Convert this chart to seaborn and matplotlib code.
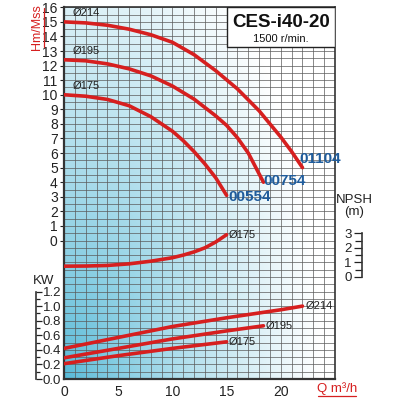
import numpy as np
import matplotlib
matplotlib.use('Agg')
import matplotlib.pyplot as plt
from matplotlib.patches import Rectangle
from matplotlib.lines import Line2D
from matplotlib.ticker import FixedLocator, MultipleLocator
import seaborn as sns

# Head curves (Q m3/h -> H m)
q_214 = [0, 2, 4, 6, 8, 10, 12, 14, 16, 18, 20, 21, 22]
h_214 = [15.0, 14.93, 14.77, 14.5, 14.12, 13.6, 12.75, 11.65, 10.4, 8.9, 7.1, 6.1, 5.0]
q_195 = [0, 2, 4, 6, 8, 10, 12, 14, 15, 16, 17, 18.4]
h_195 = [12.4, 12.33, 12.12, 11.78, 11.3, 10.6, 9.7, 8.55, 7.9, 7.05, 6.0, 4.0]
q_175 = [0, 2, 4, 6, 8, 10, 11, 12, 13, 14, 15]
h_175 = [10.0, 9.9, 9.68, 9.25, 8.5, 7.5, 6.85, 6.1, 5.25, 4.3, 3.1]

# NPSH curve (m)
q_npsh = [0, 2, 4, 6, 8, 10, 11, 12, 13, 14, 15]
npsh_175 = [0.74, 0.75, 0.79, 0.9, 1.08, 1.32, 1.5, 1.72, 2.0, 2.4, 2.9]

# Power curves (KW)
q_p214 = [0, 5, 10, 15, 20, 22]
kw_214 = [0.42, 0.57, 0.72, 0.84, 0.95, 1.0]
q_p195 = [0, 5, 10, 15, 18.4]
kw_195 = [0.29, 0.42, 0.55, 0.66, 0.73]
q_p175 = [0, 5, 10, 15]
kw_175 = [0.21, 0.32, 0.42, 0.51]

diameters = ['Ø214', 'Ø195', 'Ø175']
models = ['01104', '00754', '00554']
head_ticks = list(range(0, 17))
q_ticks = [0, 5, 10, 15, 20]
kw_ticks = [0.0, 0.2, 0.4, 0.6, 0.8, 1.0, 1.2]
kw_minor = [0.1, 0.3, 0.5, 0.7, 0.9, 1.1]
npsh_ticks = [0, 1, 2, 3]
npsh_minor = [0.5, 1.5, 2.5]

RED = '#d61f1f'
BLUE = '#1f5c9c'
TXT = '#222222'

sns.set_theme(style='white')
plt.rcParams['font.family'] = ['Liberation Sans', 'DejaVu Sans']

fig = plt.figure(figsize=(4, 4), dpi=100)
L, B, W, H = 0.16, 0.0525, 0.6775, 0.92925
ax = fig.add_axes([L, B, W, H])

# background gradient (blue at bottom-left fading to white)
u, v = np.meshgrid(np.linspace(0, 1, 271), np.linspace(0, 1, 372))
d = np.clip(np.sqrt((u / 0.95) ** 2 + (v / 1.35) ** 2), 0, 1) ** 0.8
blue = np.array([85, 185, 215]) / 255
grad = blue[None, None, :] * (1 - d[..., None]) + d[..., None]
ax.imshow(grad, extent=[0, 25, -9.5, 16], origin='lower', aspect='auto',
          zorder=0, interpolation='bilinear')

# head curves
for q, h in [(q_214, h_214), (q_195, h_195), (q_175, h_175)]:
    sns.lineplot(x=q, y=h, ax=ax, color=RED, linewidth=2.6, zorder=4)

ax.text(0.8, 15.6, diameters[0], fontsize=8, color=TXT, va='center')
ax.text(0.8, 13.0, diameters[1], fontsize=8, color=TXT, va='center')
ax.text(0.8, 10.6, diameters[2], fontsize=8, color=TXT, va='center')

mfont = dict(color=BLUE, fontsize=11, fontweight='bold', va='center', zorder=6)
ax.text(21.7, 5.6, models[0], **mfont)
ax.text(18.4, 4.05, models[1], **mfont)
ax.text(15.15, 3.0, models[2], **mfont)

# title box
ax.add_patch(Rectangle((15, 13.3), 10, 2.7, facecolor='white', edgecolor=TXT,
                       linewidth=1, zorder=5))
ax.text(20, 14.95, 'CES-i40-20', ha='center', va='center', fontsize=13.5,
        fontweight='bold', color='#111', zorder=6)
ax.text(20, 13.85, '1500 r/min.', ha='center', va='center', fontsize=8,
        color='#111', zorder=6)

# NPSH curve on its own scale
ax_np = ax.twinx()
sns.lineplot(x=q_npsh, y=npsh_175, ax=ax_np, color=RED, linewidth=2.6)
ax_np.set_ylim(-7, 18.5)
ax_np.set_axis_off()
ax_np.text(15.2, 2.9, diameters[2], fontsize=8, color=TXT, va='center')

# power curves on KW scale
ax_kw = ax.twinx()
for q, kw in [(q_p214, kw_214), (q_p195, kw_195), (q_p175, kw_175)]:
    sns.lineplot(x=q, y=kw, ax=ax_kw, color=RED, linewidth=2.6)
ax_kw.set_ylim(0, 5.1)
ax_kw.set_axis_off()
ax_kw.text(22.3, 1.0, diameters[0], fontsize=8, color=TXT, va='center')
ax_kw.text(18.6, 0.73, diameters[1], fontsize=8, color=TXT, va='center')
ax_kw.text(15.2, 0.51, diameters[2], fontsize=8, color=TXT, va='center')

# main axis styling
ax.set_xlim(0, 25)
ax.set_ylim(-9.5, 16)
ax.xaxis.set_major_locator(FixedLocator(q_ticks))
ax.xaxis.set_minor_locator(MultipleLocator(1))
ax.yaxis.set_major_locator(FixedLocator(head_ticks))
ax.yaxis.set_minor_locator(MultipleLocator(0.5))
ax.grid(which='both', color='#5a5a5a', linewidth=0.5)
ax.tick_params(which='minor', length=0)
ax.tick_params(axis='y', which='major', length=3, width=0.8, pad=1.5,
               labelsize=10, colors=TXT, left=True)
ax.tick_params(axis='x', which='major', length=0, pad=4, labelsize=10, colors=TXT)
for s in ax.spines.values():
    s.set_color('#333333')
    s.set_linewidth(1.2)
ax.spines['left'].set_linewidth(1.6)
ax.spines['bottom'].set_linewidth(1.6)

# KW bracket scale
ax_kt = fig.add_axes([36 / 400, B, 0.0001, H])
ax_kt.set_ylim(0, 5.1)
ax_kt.patch.set_visible(False)
for s in ['top', 'bottom', 'left']:
    ax_kt.spines[s].set_visible(False)
ax_kt.spines['right'].set_bounds(0, 1.2)
ax_kt.spines['right'].set_color('#333333')
ax_kt.spines['right'].set_linewidth(1.2)
ax_kt.set_xticks([])
ax_kt.yaxis.tick_right()
ax_kt.yaxis.set_major_locator(FixedLocator(kw_ticks))
ax_kt.yaxis.set_minor_locator(FixedLocator(kw_minor))
ax_kt.set_yticklabels([f'{t:.1f}' for t in kw_ticks])
ax_kt.tick_params(axis='y', which='both', direction='out', length=4, width=0.9,
                  pad=1, labelsize=9.5, colors=TXT, right=True)
ax_kt.tick_params(axis='y', which='minor', length=3)

# NPSH bracket scale
ax_nt = fig.add_axes([362 / 400, B, 0.0001, H])
ax_nt.set_ylim(-7, 18.5)
ax_nt.patch.set_visible(False)
for s in ['top', 'bottom', 'right']:
    ax_nt.spines[s].set_visible(False)
ax_nt.spines['left'].set_bounds(0, 3)
ax_nt.spines['left'].set_color('#333333')
ax_nt.spines['left'].set_linewidth(1.2)
ax_nt.set_xticks([])
ax_nt.yaxis.set_major_locator(FixedLocator(npsh_ticks))
ax_nt.yaxis.set_minor_locator(FixedLocator(npsh_minor))
ax_nt.tick_params(axis='y', which='both', direction='out', length=6, width=0.9,
                  pad=1.5, labelsize=9.5, colors=TXT, left=True)
ax_nt.tick_params(axis='y', which='minor', length=5)

# axis captions
fig.text(43.5 / 400, 1 - 287 / 400, 'KW', ha='center', va='bottom',
         fontsize=9.5, color=TXT)
fig.text(354 / 400, 1 - 206 / 400, 'NPSH\n(m)', ha='center', va='center',
         fontsize=9.5, color=TXT, linespacing=1.0)
fig.text(37 / 400, 1 - 27 / 400, 'Hm/Mss', rotation=90, ha='center',
         va='center', fontsize=9, color=RED)
fig.add_artist(Line2D([43.5 / 400, 43.5 / 400], [1 - 8 / 400, 1 - 47 / 400],
                      color=RED, linewidth=0.9, transform=fig.transFigure))
fig.text(337 / 400, 1 - 389 / 400, 'Q m³/h', ha='center', va='center',
         fontsize=9.5, color=RED)
fig.add_artist(Line2D([318 / 400, 356 / 400], [1 - 396 / 400, 1 - 396 / 400],
                      color=RED, linewidth=0.9, transform=fig.transFigure))

fig.savefig('out.png', dpi=100)
